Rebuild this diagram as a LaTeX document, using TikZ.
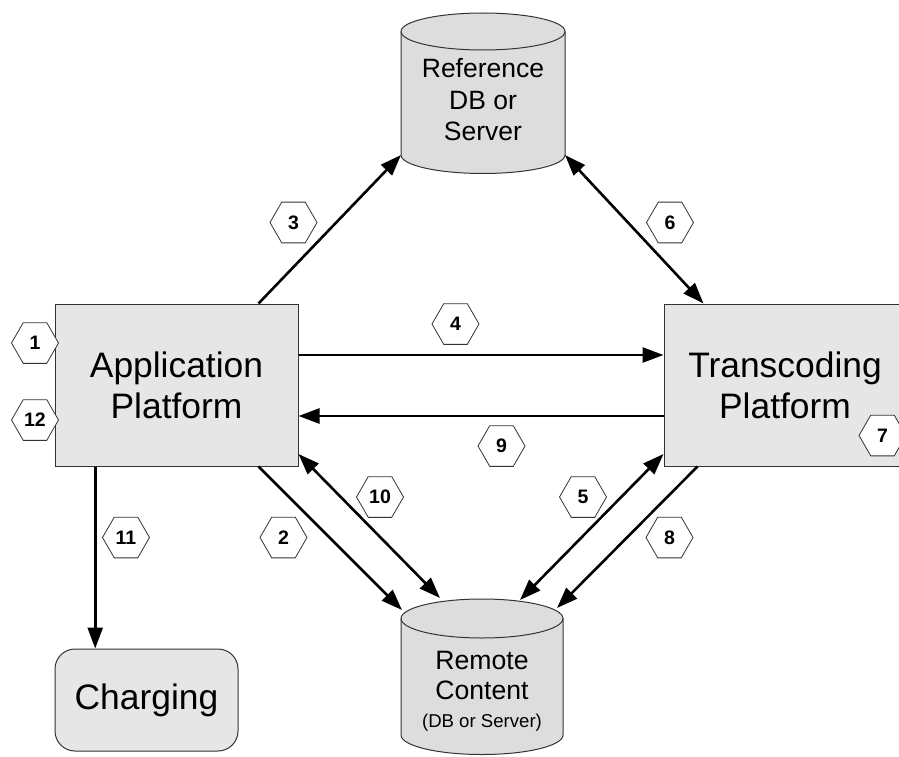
\documentclass[tikz,border=0pt]{standalone}
\usepackage{fontspec}
\setmainfont{Liberation Sans}
\usetikzlibrary{arrows.meta,shapes.geometric}
\definecolor{boxfill}{HTML}{E6E6E6}
\definecolor{dbfill}{HTML}{DDDDDD}
\definecolor{edge}{HTML}{333333}
\tikzset{
  platbox/.style={draw=edge, line width=1pt, fill=boxfill, inner sep=0pt, align=center,
    font=\fontsize{35.4}{41}\selectfont},
  hexlbl/.style={regular polygon, regular polygon sides=6, minimum size=47pt, inner sep=0pt,
    draw=edge, line width=0.8pt, fill=white, font=\fontsize{19.5}{20}\selectfont\bfseries},
  conn/.style={line width=2.6pt, -{Triangle[length=21pt,width=15pt]}},
  dconn/.style={line width=2.6pt, {Triangle[length=21pt,width=15pt]}-{Triangle[length=21pt,width=15pt]}},
  dbtext/.style={align=center, inner sep=0pt, font=\fontsize{26.5}{31.5}\selectfont},
  dbshape/.style={fill=dbfill, draw=edge, line width=1pt}
}
\begin{document}
\begin{tikzpicture}[x=1pt,y=1pt]
\useasboundingbox (0,0) rectangle (899,-757);
\clip (0,0) rectangle (899,-757);

% Reference DB cylinder
\path[dbshape] (401,-31.5) -- (401,-155) arc[start angle=180,end angle=360,x radius=82,y radius=18.5]
  -- (565,-31.5) arc[start angle=0,end angle=180,x radius=82,y radius=18.5] -- cycle;
\draw[edge, line width=1pt] (401,-31.5) arc[start angle=180,end angle=360,x radius=82,y radius=18.5];
\node[dbtext] (refdb) at (483,-100) {Reference\\DB or\\Server};

% Remote content cylinder
\path[dbshape] (401,-618.5) -- (401,-735) arc[start angle=180,end angle=360,x radius=81,y radius=19.5]
  -- (563,-618.5) arc[start angle=0,end angle=180,x radius=81,y radius=19.5] -- cycle;
\draw[edge, line width=1pt] (401,-618.5) arc[start angle=180,end angle=360,x radius=81,y radius=19.5];
\node[dbtext, font=\fontsize{26.6}{30}\selectfont] (remote) at (482,-691.5)
  {Remote\\Content\\[-2pt]{\fontsize{18.6}{22}\selectfont (DB or Server)}};

% Boxes
\node[platbox, minimum width=243pt, minimum height=162pt] (app) at (176.5,-385) {Application\\Platform};
\node[platbox, minimum width=242pt, minimum height=162pt] (trans) at (785,-385) {Transcoding\\Platform};
\node[platbox, rounded corners=20pt, minimum width=183pt, minimum height=102pt] (charging) at (146.5,-700) {Charging};

% connector end points on cylinders
\coordinate (refSW) at (401,-155);
\coordinate (refSE) at (565,-155);
\coordinate (remA) at (402,-610);
\coordinate (remB) at (440,-598);
\coordinate (remC) at (520,-600);
\coordinate (remD) at (557,-608);

% Connectors
\draw[conn] ([xshift=-40pt]app.north east) -- (refSW);
\draw[dconn] (refSE) -- ([xshift=40pt]trans.north west);
\draw[conn] ([yshift=30pt]app.east) -- ([yshift=30pt]trans.west);
\draw[conn] ([yshift=-31pt]trans.west) -- ([yshift=-31pt]app.east);
\draw[dconn] ([yshift=-69pt]app.east) -- (remB);
\draw[conn] ([xshift=-40pt]app.south east) -- (remA);
\draw[dconn] ([yshift=-69pt]trans.west) -- (remC);
\draw[conn] ([xshift=34pt]trans.south west) -- (remD);
\draw[conn] ([xshift=40.7pt]app.south west) -- ([xshift=40.7pt]charging.north west);

% Hexagon labels
\node[hexlbl] (h1) at (35,-343) {1};
\node[hexlbl] (h12) at (35,-420) {12};
\node[hexlbl] (h3) at (293.5,-222.5) {3};
\node[hexlbl] (h6) at (670,-222.5) {6};
\node[hexlbl] (h4) at (455.5,-324) {4};
\node[hexlbl] (h9) at (501.5,-446) {9};
\node[hexlbl] (h10) at (380,-497) {10};
\node[hexlbl] (h5) at (583,-497) {5};
\node[hexlbl] (h11) at (126,-537.5) {11};
\node[hexlbl] (h2) at (283.5,-537.5) {2};
\node[hexlbl] (h8) at (669.5,-537.5) {8};
\node[hexlbl] (h7) at (882.5,-435.5) {7};
\end{tikzpicture}
\end{document}
